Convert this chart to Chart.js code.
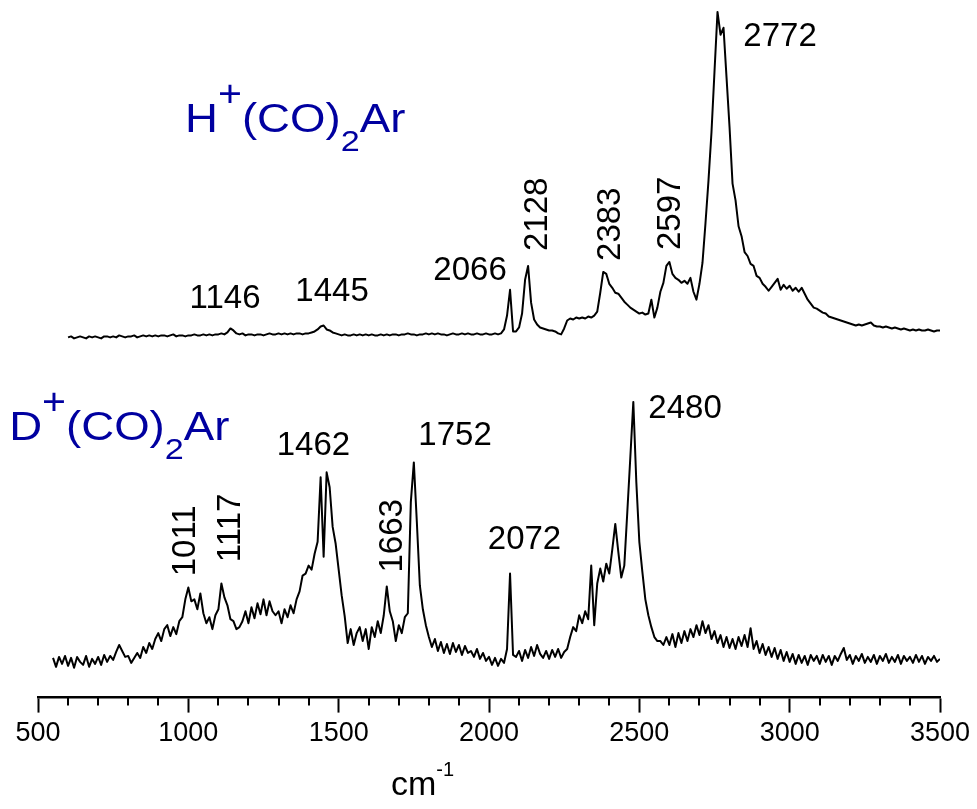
<!DOCTYPE html>
<html>
<head>
<meta charset="utf-8">
<script src="https://cdn.jsdelivr.net/npm/chart.js@4.4.1/dist/chart.umd.min.js"></script>
<style>
  html, body { margin: 0; padding: 0; background: #fff; }
</style>
</head>
<body>
<canvas id="spectra" width="977" height="809"></canvas>
<script>
// wavenumber grid (cm-1) for both scans
const hStart = 600;
const dStart = 550;
const waveStep = 10;

// H+(CO)2Ar signal (arb. units above its own baseline)
const hSignal = [
  0, 1, -1, 0, 1, 0, -1, 1, 0, 1,            // 600
  0, -1, 1, 1, 0, 1, 0, 2, 1, 0,             // 700
  1, 1, 2, 0, 1, 2, 1, 2, 1, 2,              // 800
  1, 2, 2, 1, 2, 3, 1, 2, 2, 1,              // 900
  2, 2, 3, 2, 2, 3, 2, 3, 2, 3,              // 1000
  3, 4, 3, 5, 9, 7, 4, 3, 4, 2,              // 1100
  3, 3, 2, 3, 3, 2, 3, 4, 3, 3,              // 1200
  4, 3, 4, 3, 4, 3, 4, 4, 3, 4,              // 1300
  4, 5, 6, 8, 11, 12, 8, 7, 5, 4,            // 1400
  3, 2, 3, 2, 2, 3, 2, 3, 2, 3,              // 1500
  2, 3, 2, 2, 3, 2, 3, 2, 3, 3,              // 1600
  2, 3, 3, 4, 3, 3, 2, 3, 3, 4,              // 1700
  3, 4, 3, 4, 3, 3, 2, 3, 4, 3,              // 1800
  3, 4, 3, 4, 3, 3, 4, 3, 3, 4,              // 1900
  3, 3, 4, 3, 4, 8, 22, 48, 6, 6,            // 2000
  10, 24, 58, 72, 35, 18, 13, 10, 9, 8,      // 2100
  7, 7, 6, 4, 3, 9, 17, 19, 18, 20,          // 2200
  19, 20, 19, 21, 20, 22, 26, 45, 66, 64,    // 2300
  54, 50, 45, 44, 40, 36, 33, 30, 28, 26,    // 2400
  24, 25, 23, 24, 38, 20, 30, 46, 55, 72,    // 2500
  76, 64, 60, 58, 55, 57, 54, 60, 46, 38,    // 2600
  54, 75, 115, 158, 207, 268, 328, 305, 312, 262, // 2700
  212, 155, 138, 112, 102, 86, 82, 74, 72, 62,    // 2800
  60, 54, 51, 47, 51, 55, 59, 48, 53, 49,    // 2900
  52, 47, 50, 46, 50, 44, 38, 34, 30, 29,    // 3000
  27, 25, 24, 21, 20, 19, 18, 17, 16, 15,    // 3100
  14, 13, 12, 13, 12, 13, 14, 15, 12, 11,    // 3200
  11, 10, 11, 10, 9, 10, 9, 8, 9, 8,         // 3300
  7, 8, 7, 8, 7, 7, 8, 7, 6, 7,              // 3400
  7                                          // 3500
];

// D+(CO)2Ar signal
const dSignal = [
  3, -6, 4, -3, 5,                           // 550
  -5, 3, -7, 4, -1, -4, 5, -6, 2, -3,        // 600
  4, -4, 6, -1, 5, 1, 9, 16, 10, 4,          // 700
  5, -2, 3, 8, 3, 14, 8, 18, 12, 22,         // 800
  28, 20, 32, 36, 25, 34, 27, 40, 44, 62,    // 900
  74, 60, 62, 52, 68, 48, 38, 44, 32, 46,    // 1000
  52, 78, 64, 56, 42, 40, 32, 34, 40, 50,    // 1100
  38, 54, 43, 58, 47, 62, 46, 60, 50, 46,    // 1200
  50, 38, 52, 44, 56, 48, 62, 70, 86, 88,    // 1300
  96, 92, 108, 120, 185, 105, 190, 175, 135, 118, // 1400
  92, 66, 45, 18, 32, 16, 28, 34, 20, 32,    // 1500
  12, 34, 24, 40, 28, 46, 75, 50, 40, 20,    // 1600
  36, 28, 44, 48, 160, 200, 140, 76, 52, 36, // 1700
  24, 14, 22, 10, 19, 8, 17, 7, 18, 9,       // 1800
  16, 6, 15, 8, 10, 4, 12, 2, 8, 0,          // 1900
  4, -4, 3, -5, 2, -2, 12, 88, 6, 4,         // 2000
  10, 0, 11, 3, 14, 5, 16, 7, 3, 10,         // 2100
  2, 11, 4, 12, 3, 9, 12, 24, 34, 30,        // 2200
  46, 38, 50, 42, 96, 36, 78, 93, 80, 98,    // 2300
  88, 112, 138, 110, 84, 96, 150, 205, 261, 180, // 2400
  120, 90, 62, 46, 34, 24, 20, 20, 16, 24,   // 2500
  16, 27, 14, 28, 18, 30, 20, 32, 24, 36,    // 2600
  26, 40, 28, 36, 22, 30, 18, 26, 14, 24,    // 2700
  13, 22, 12, 24, 15, 26, 14, 33, 12, 20,    // 2800
  8, 17, 6, 14, 4, 13, 2, 11, 0, 9,          // 2900
  -1, 7, -3, 6, -2, 5, -4, 6, 0, 5,          // 3000
  -3, 6, -1, 5, -4, 5, 0, 7, 13, 1,          // 3100
  6, -3, 5, 0, 7, -2, 4, -1, 6, -3,          // 3200
  5, 0, 7, -2, 4, -1, 6, -3, 5, 0,           // 3300
  4, -2, 6, -1, 5, -3, 4, 0, 5, -1,          // 3400
  2                                          // 3500
];

// vertical stacking of the two traces
const hOffset = 363;
const dOffset = 37;

const majorTicks = [500, 1000, 1500, 2000, 2500, 3000, 3500];
const minorTicks = [600, 700, 800, 900, 1100, 1200, 1300, 1400, 1600, 1700, 1800, 1900,
  2100, 2200, 2300, 2400, 2600, 2700, 2800, 2900, 3100, 3200, 3300, 3400];

// peak labels and where they sit (wavenumber, height, rotated)
const peakText = ['1146', '1445', '2066', '2128', '2383', '2597', '2772',
  '1011', '1117', '1462', '1663', '1752', '2072', '2480'];
const peakSpots = [
  [1122, 393, false], [1478, 400, false], [1937, 421, false],
  [2193, 487, true], [2435, 477, true], [2635, 488, true], [2968, 657, false],
  [1022, 158, true], [1172, 171, true], [1416, 244, false], [1711, 163, true],
  [1887, 255, false], [2118, 150, false], [2652, 282, false]
];

// species names: [text, role]
const hName = [['H', 'main'], ['+', 'sup'], ['(CO)', 'main'], ['2', 'sub'], ['Ar', 'main']];
const dName = [['D', 'main'], ['+', 'sup'], ['(CO)', 'main'], ['2', 'sub'], ['Ar', 'main']];
const nameSpots = [[989, 570], [404, 260]];

const FONT = '"Liberation Sans", Arial, Helvetica, sans-serif';
const BLUE = '#0000a0';

// build the point lists
let hPoints = hSignal.map((s, i) => ({ x: hStart + i * waveStep, y: s + hOffset }));
let dPoints = dSignal.map((s, i) => ({ x: dStart + i * waveStep, y: s + dOffset }));

function drawName(ctx, parts, px, py) {
  ctx.save();
  ctx.translate(px, py);
  ctx.scale(1.14, 1);
  ctx.fillStyle = BLUE;
  ctx.textAlign = 'left';
  ctx.textBaseline = 'alphabetic';
  let cx = 0;
  parts.forEach(([t, role]) => {
    let size = 40, dy = 0;
    if (role === 'sup') { size = 36; dy = -26; }
    if (role === 'sub') { size = 30; dy = 19; }
    ctx.font = size + 'px ' + FONT;
    ctx.fillText(t, cx, dy);
    cx += ctx.measureText(t).width;
  });
  ctx.restore();
}

const decor = {
  id: 'decor',
  afterDraw(chart) {
    const ctx = chart.ctx;
    const x = chart.scales.x, y = chart.scales.y;
    ctx.save();

    // minor ticks
    ctx.strokeStyle = '#000';
    ctx.lineWidth = 2;
    minorTicks.forEach(v => {
      const px = Math.round(x.getPixelForValue(v));
      ctx.beginPath();
      ctx.moveTo(px, x.top);
      ctx.lineTo(px, x.top + 8);
      ctx.stroke();
    });

    // peak positions
    ctx.fillStyle = '#000';
    ctx.font = '33px ' + FONT;
    ctx.textAlign = 'center';
    ctx.textBaseline = 'alphabetic';
    peakText.forEach((t, i) => {
      const [w, h, rot] = peakSpots[i];
      ctx.save();
      ctx.translate(x.getPixelForValue(w), y.getPixelForValue(h));
      if (rot) ctx.rotate(-Math.PI / 2);
      ctx.fillText(t, 0, 0);
      ctx.restore();
    });

    // species names
    drawName(ctx, hName, x.getPixelForValue(nameSpots[0][0]), y.getPixelForValue(nameSpots[0][1]));
    drawName(ctx, dName, x.getPixelForValue(nameSpots[1][0]), y.getPixelForValue(nameSpots[1][1]));

    // axis title cm-1
    const tx = x.getPixelForValue(1674);
    const ty = x.top + 97;
    ctx.fillStyle = '#000';
    ctx.textAlign = 'left';
    ctx.font = '34px ' + FONT;
    ctx.fillText('cm', tx, ty);
    const cw = ctx.measureText('cm').width;
    ctx.font = '20px ' + FONT;
    ctx.fillText('-1', tx + cw, ty - 19);

    ctx.restore();
  }
};

const lineStyle = {
  borderColor: '#000',
  borderWidth: 2,
  borderJoinStyle: 'round',
  pointRadius: 0,
  showLine: true,
  tension: 0
};

new Chart(document.getElementById('spectra').getContext('2d'), {
  type: 'scatter',
  data: {
    datasets: [
      Object.assign({ label: 'H+(CO)2Ar', data: hPoints }, lineStyle),
      Object.assign({ label: 'D+(CO)2Ar', data: dPoints }, lineStyle)
    ]
  },
  options: {
    responsive: false,
    animation: false,
    devicePixelRatio: 1,
    layout: { padding: { left: 38, right: 37, top: 0, bottom: 54 } },
    plugins: {
      legend: { display: false },
      tooltip: { enabled: false }
    },
    scales: {
      x: {
        type: 'linear',
        min: 500,
        max: 3500,
        afterBuildTicks: scale => { scale.ticks = majorTicks.map(v => ({ value: v })); },
        ticks: {
          color: '#000',
          font: { family: FONT, size: 27 },
          padding: 5,
          maxRotation: 0,
          autoSkip: false,
          callback: v => String(v)
        },
        grid: {
          drawOnChartArea: false,
          drawTicks: true,
          tickLength: 15,
          tickWidth: 2,
          tickColor: '#000'
        },
        border: { display: true, color: '#000', width: 2.5 }
      },
      y: {
        display: false,
        min: 0,
        max: 703
      }
    }
  },
  plugins: [decor]
});
</script>
</body>
</html>
